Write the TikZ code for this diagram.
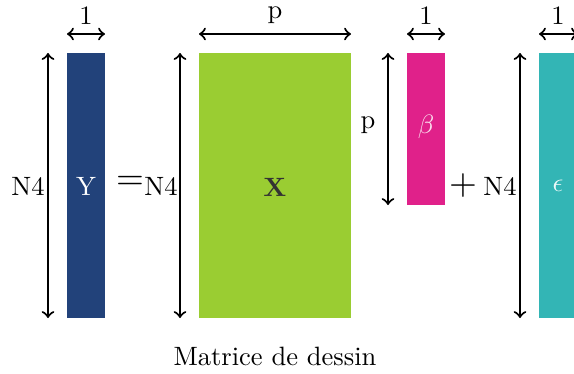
\documentclass[tikz,border=0pt]{standalone}
\usepackage{amsmath}
\definecolor{colY}{HTML}{22427A}
\definecolor{colX}{HTML}{9ACD32}
\definecolor{colB}{HTML}{E0218A}
\definecolor{colE}{HTML}{33B5B5}
\begin{document}
\begin{tikzpicture}[x=0.377pt,y=-0.377pt,
  dim/.style={<->,thick,black}]
\useasboundingbox (0,0) rectangle (574,373);
% Y
\fill[colY] (67,53) rectangle (105,318);
\node[text=white] (ylab) at (86,186) {Y};
\coordinate (ya1) at (48,53); \coordinate (ya2) at (48,318);
\draw[dim] (ya1) -- (ya2);
\node (yn) at (28,186) {N4};
\coordinate (yt1) at (67,34); \coordinate (yt2) at (105,34);
\draw[dim] (yt1) -- (yt2);
\node (y1) at (86,16) {1};
% =
\node[scale=1.35] (eq) at (130,183) {$=$};
\node (xn) at (161,186) {N4};
% X
\coordinate (xa1) at (180,53); \coordinate (xa2) at (180,318);
\draw[dim] (xa1) -- (xa2);
\fill[colX] (199,53) rectangle (351,318);
\node[text=black!80] (xlab) at (275,187) {$\mathbf{X}$};
\coordinate (xt1) at (199,34); \coordinate (xt2) at (351,34);
\draw[dim] (xt1) -- (xt2);
\node (xp) at (275,15) {p};
% beta
\node (bp) at (368,125) {p};
\coordinate (ba1) at (388,53); \coordinate (ba2) at (388,205);
\draw[dim] (ba1) -- (ba2);
\fill[colB] (407,53) rectangle (445,205);
\node[text=white!85!colB] (blab) at (426,127) {$\beta$};
\coordinate (bt1) at (407,34); \coordinate (bt2) at (445,34);
\draw[dim] (bt1) -- (bt2);
\node (b1) at (426,16) {1};
% +
\node[scale=1.35] (plus) at (463,186) {$+$};
\node (en) at (500,186) {N4};
% epsilon
\coordinate (ea1) at (520,53); \coordinate (ea2) at (520,318);
\draw[dim] (ea1) -- (ea2);
\fill[colE] (539,53) rectangle (580,318);
\node[text=white!90!colE] (elab) at (558,186) {$\epsilon$};
\coordinate (et1) at (539,34); \coordinate (et2) at (578,34);
\draw[dim] (et1) -- (et2);
\node (e1) at (558,16) {1};
% caption
\node (cap) at (275,356) {Matrice de dessin};
\end{tikzpicture}
\end{document}
